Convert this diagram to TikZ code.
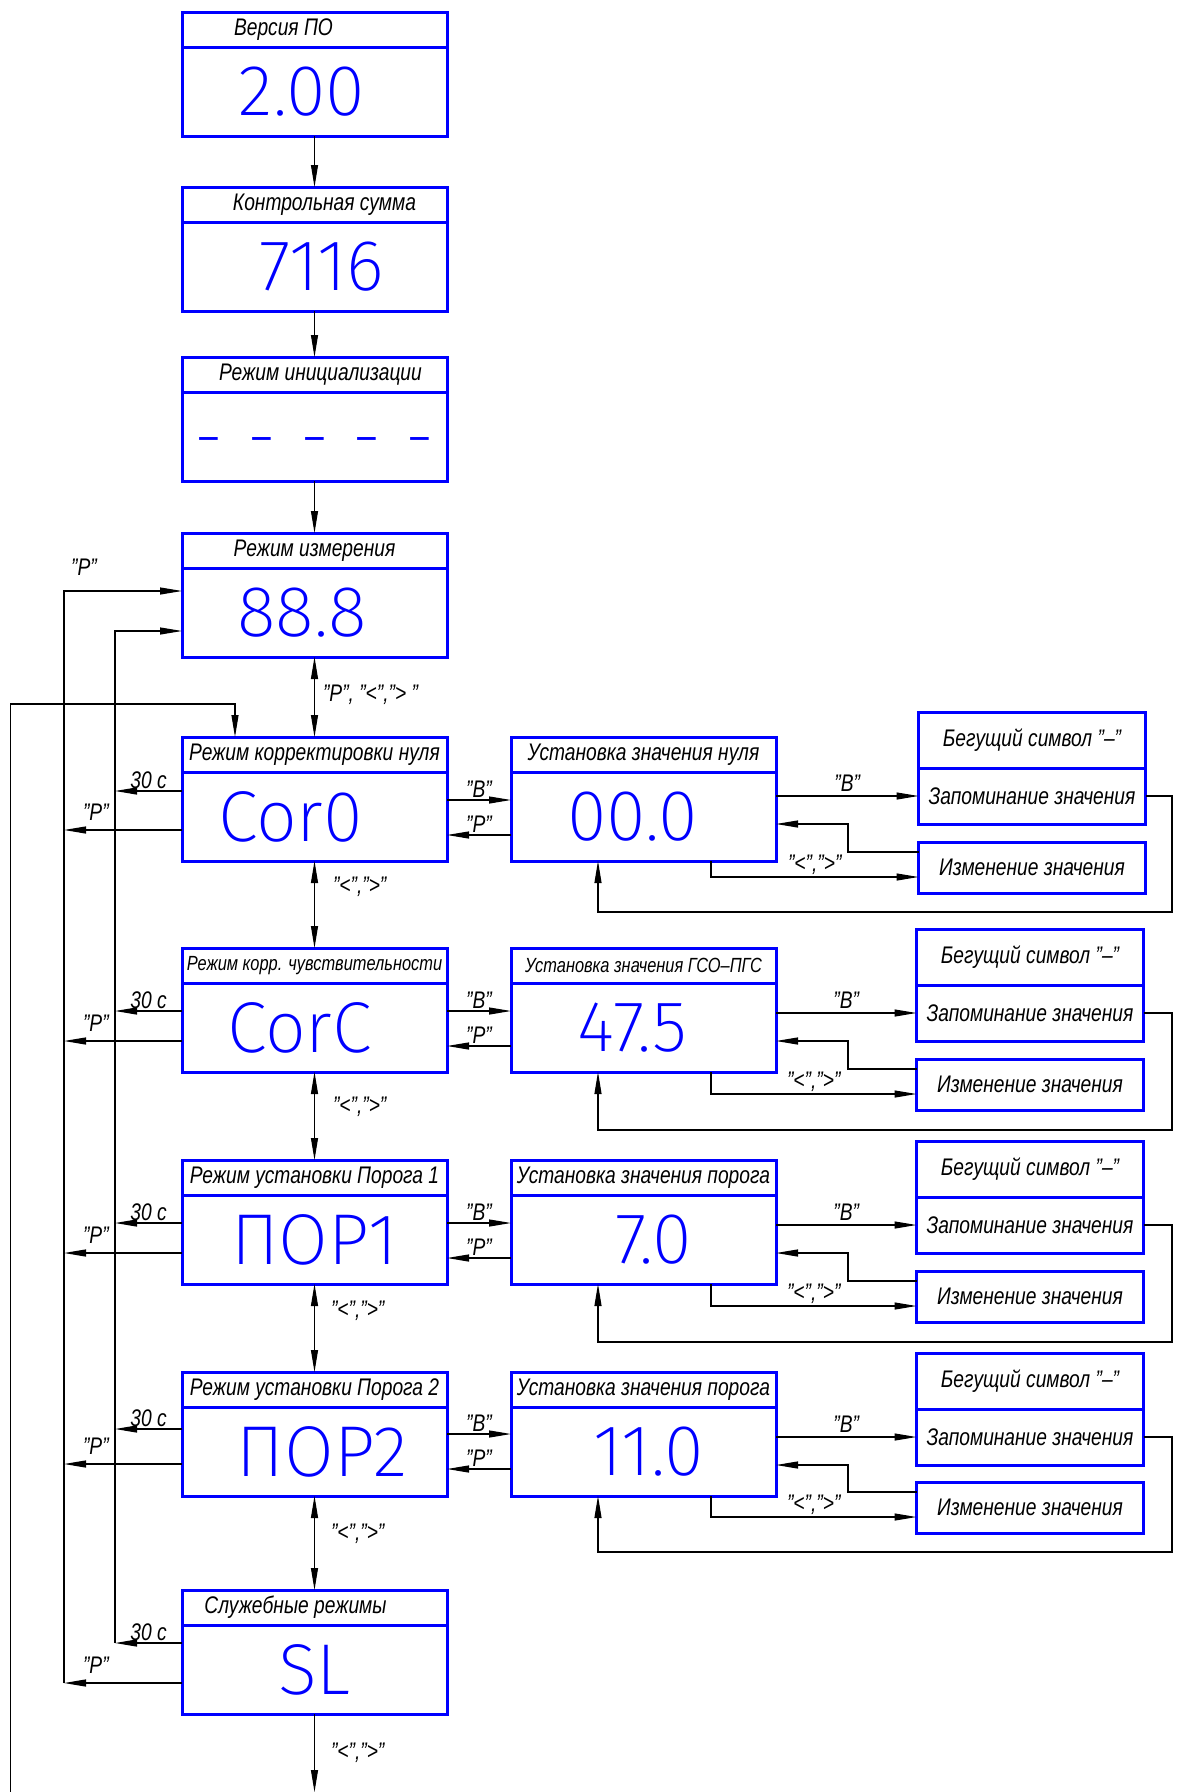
\documentclass[tikz,border=0pt]{standalone}
\usepackage{fontspec}
\setmainfont{Liberation Sans}[FakeStretch=0.8]
\newfontfamily\segfont{Fira Sans ExtraLight}
\usetikzlibrary{positioning,arrows.meta}

\tikzstyle{head} = [draw=blue, line width=3pt, outer sep=0pt, inner sep=0pt, minimum width=265pt, minimum height=35pt, anchor=north, font=\itshape\fontsize{24}{24}\selectfont]
\tikzstyle{disp} = [draw=blue, line width=3pt, outer sep=0pt, inner sep=0pt, minimum width=265pt, minimum height=89pt, text=blue, font=\segfont\fontsize{72}{72}\selectfont]
\tikzstyle{cell} = [draw=blue, line width=3pt, outer sep=0pt, inner sep=0pt, minimum width=227pt, minimum height=56pt, anchor=north, font=\itshape\fontsize{24}{24}\selectfont]
\tikzstyle{link} = [draw, line width=1.1pt, -{Triangle[length=22pt,width=7pt]}]
\tikzstyle{dlink} = [draw, line width=1.1pt, {Triangle[length=22pt,width=7pt]}-{Triangle[length=22pt,width=7pt]}]
\tikzstyle{lbl} = [font=\itshape\fontsize{24}{24}\selectfont, inner sep=2pt]
\tikzstyle{small} = [font=\itshape\fontsize{20.5}{20.5}\selectfont]

\begin{document}
\begin{tikzpicture}[x=1pt, y=-1pt]
\useasboundingbox (0,0) rectangle (1176,1792);

% main column
\node[head] (ver) at (314.5,12) {Версия ПО\hspace{62pt}\mbox{}};
\node[disp, below=0pt of ver] (verv) {2.00\hspace{25pt}\mbox{}};
\node[head] (crc) at (314.5,187) {\hspace{20pt}Контрольная сумма};
\node[disp, below=0pt of crc] (crcv) {\hspace{15pt}7116};
\node[head] (init) at (314.5,357) {\hspace{12pt}Режим инициализации};
\node[disp, below=0pt of init] (initv) {\raisebox{-25pt}[0pt][0pt]{-\hspace{24pt}-\hspace{24pt}-\hspace{24pt}-\hspace{24pt}-}};
\node[head] (meas) at (314.5,533) {Режим измерения};
\node[disp, below=0pt of meas] (measv) {88.8\hspace{25pt}\mbox{}};
\node[head] (cor0) at (314.5,737) {Режим корректировки нуля};
\node[disp, below=0pt of cor0] (cor0v) {Cor0\hspace{48pt}\mbox{}};
\node[head, small] (corC) at (314.5,948) {Режим корр. чувствительности};
\node[disp, below=0pt of corC] (corCv) {CorC\hspace{30pt}\mbox{}};
\node[head] (por1) at (314.5,1160) {Режим установки Порога 1};
\node[disp, below=0pt of por1] (por1v) {ПОР1};
\node[head] (por2) at (314.5,1372) {Режим установки Порога 2};
\node[disp, below=0pt of por2] (por2v) {\hspace{15pt}ПОР2};
\node[head] (sl) at (314.5,1590) {Служебные режимы\hspace{38pt}\mbox{}};
\node[disp, below=0pt of sl] (slv) {SL};

% value setting column
\node[head] (set0) at (643.5,737) {Установка значения нуля};
\node[disp, below=0pt of set0] (set0v) {00.0\hspace{22pt}\mbox{}};
\node[head, small] (setC) at (643.5,948) {Установка значения ГСО–ПГС};
\node[disp, below=0pt of setC] (setCv) {47.5\hspace{22pt}\mbox{}};
\node[head] (setP1) at (643.5,1160) {Установка значения порога};
\node[disp, below=0pt of setP1] (setP1v) {\hspace{20pt}7.0};
\node[head] (setP2) at (643.5,1372) {Установка значения порога};
\node[disp, below=0pt of setP2] (setP2v) {\hspace{10pt}11.0};

% right column
\node[cell] (run1) at (1032,712) {Бегущий символ "–"};
\node[cell, below=0pt of run1] (mem1) {Запоминание значения};
\node[cell, minimum height=51pt] (chg1) at (1032,842) {Изменение значения};
\node[cell] (run2) at (1030,929) {Бегущий символ "–"};
\node[cell, below=0pt of run2] (mem2) {Запоминание значения};
\node[cell, minimum height=51pt] (chg2) at (1030,1059) {Изменение значения};
\node[cell] (run3) at (1030,1141) {Бегущий символ "–"};
\node[cell, below=0pt of run3] (mem3) {Запоминание значения};
\node[cell, minimum height=51pt] (chg3) at (1030,1271) {Изменение значения};
\node[cell] (run4) at (1030,1353) {Бегущий символ "–"};
\node[cell, below=0pt of run4] (mem4) {Запоминание значения};
\node[cell, minimum height=51pt] (chg4) at (1030,1482) {Изменение значения};

% main chain
\draw[link] (verv.south) -- (crc.north);
\draw[link] (crcv.south) -- (init.north);
\draw[link] (initv.south) -- (meas.north);
\draw[dlink] (measv.south) -- (cor0.north) node[lbl, pos=0.47, anchor=west, xshift=6pt] {"Р", "<","> "};
\draw[dlink] (cor0v.south) -- (corC.north) node[lbl, pos=0.3, anchor=west, xshift=16pt] {"<",">"};
\draw[dlink] (corCv.south) -- (por1.north) node[lbl, pos=0.4, anchor=west, xshift=16pt] {"<",">"};
\draw[dlink] (por1v.south) -- (por2.north) node[lbl, pos=0.3, anchor=west, xshift=14pt] {"<",">"};
\draw[dlink] (por2v.south) -- (sl.north) node[lbl, pos=0.4, anchor=west, xshift=14pt] {"<",">"};
\coordinate (out) at (314.5,1792);
\draw[link] (slv.south) -- (out) node[lbl, pos=0.5, anchor=west, xshift=14pt] {"<",">"};

% back to measuring mode
\coordinate (ptop) at (64,591);
\coordinate (pbot) at (64,1683);
\coordinate (ttop) at (115,631);
\coordinate (tbot) at (115,1643);
\draw[link] (pbot) -- (ptop) -- (measv.west |- ptop);
\node[lbl] (pl0) at (84,567) {"Р"};
\draw[link] (tbot) -- (ttop) -- (measv.west |- ttop);
\coordinate (cbot) at (10.7,1792);
\coordinate (ctop) at (235,704);
\draw[link] (cbot) |- (ctop) -- (cor0.north -| ctop);

% exits to the left
\coordinate (t1) at (115,791);
\coordinate (p1) at (64,830);
\draw[link] (cor0v.west |- t1) -- (t1) node[lbl, midway, above] {30 с};
\draw[link] (cor0v.west |- p1) -- (p1) node[lbl, pos=0.73, above=7pt] {"Р"};
\coordinate (t2) at (115,1011);
\coordinate (p2) at (64,1041);
\draw[link] (corCv.west |- t2) -- (t2) node[lbl, midway, above] {30 с};
\draw[link] (corCv.west |- p2) -- (p2) node[lbl, pos=0.73, above=7pt] {"Р"};
\coordinate (t3) at (115,1223);
\coordinate (p3) at (64,1253);
\draw[link] (por1v.west |- t3) -- (t3) node[lbl, midway, above] {30 с};
\draw[link] (por1v.west |- p3) -- (p3) node[lbl, pos=0.73, above=7pt] {"Р"};
\coordinate (t4) at (115,1429);
\coordinate (p4) at (64,1464);
\draw[link] (por2v.west |- t4) -- (t4) node[lbl, midway, above] {30 с};
\draw[link] (por2v.west |- p4) -- (p4) node[lbl, pos=0.73, above=7pt] {"Р"};
\coordinate (t5) at (115,1643);
\coordinate (p5) at (64,1683);
\draw[link] (slv.west |- t5) -- (t5) node[lbl, midway, above] {30 с};
\draw[link] (slv.west |- p5) -- (p5) node[lbl, pos=0.73, above=7pt] {"Р"};

% into setting and back
\coordinate (b1) at (0,800);
\coordinate (r1) at (0,835);
\draw[link] (cor0v.east |- b1) -- (set0v.west |- b1) node[lbl, midway, above] {"В"};
\draw[link] (set0v.west |- r1) -- (cor0v.east |- r1) node[lbl, midway, above] {"Р"};
\coordinate (b2) at (0,1011);
\coordinate (r2) at (0,1046);
\draw[link] (corCv.east |- b2) -- (setCv.west |- b2) node[lbl, midway, above] {"В"};
\draw[link] (setCv.west |- r2) -- (corCv.east |- r2) node[lbl, midway, above] {"Р"};
\coordinate (b3) at (0,1223);
\coordinate (r3) at (0,1258);
\draw[link] (por1v.east |- b3) -- (setP1v.west |- b3) node[lbl, midway, above] {"В"};
\draw[link] (setP1v.west |- r3) -- (por1v.east |- r3) node[lbl, midway, above] {"Р"};
\coordinate (b4) at (0,1434);
\coordinate (r4) at (0,1469);
\draw[link] (por2v.east |- b4) -- (setP2v.west |- b4) node[lbl, midway, above] {"В"};
\draw[link] (setP2v.west |- r4) -- (por2v.east |- r4) node[lbl, midway, above] {"Р"};

% value editing loops
\coordinate (c1) at (848,852);
\coordinate (d1) at (711,877);
\coordinate (e1) at (1172,912);
\coordinate (f1) at (598,912);
\draw[link] (set0v.east |- mem1.west) -- (mem1.west) node[lbl, midway, above=2pt] {"В"};
\draw[link] (chg1.west |- c1) -- (c1) |- (set0v.east |- mem1.south);
\draw[link] (set0v.south -| d1) |- (chg1.west |- d1) node[lbl, pos=0.75, above] {"<",">"};
\draw[link] (mem1.east) -| (e1) -- (f1) -- (set0v.south -| f1);
\coordinate (c2) at (848,1069);
\coordinate (d2) at (711,1094);
\coordinate (e2) at (1172,1130);
\coordinate (f2) at (598,1130);
\draw[link] (setCv.east |- mem2.west) -- (mem2.west) node[lbl, midway, above=2pt] {"В"};
\draw[link] (chg2.west |- c2) -- (c2) |- (setCv.east |- mem2.south);
\draw[link] (setCv.south -| d2) |- (chg2.west |- d2) node[lbl, pos=0.75, above] {"<",">"};
\draw[link] (mem2.east) -| (e2) -- (f2) -- (setCv.south -| f2);
\coordinate (c3) at (848,1281);
\coordinate (d3) at (711,1306);
\coordinate (e3) at (1172,1342);
\coordinate (f3) at (598,1342);
\draw[link] (setP1v.east |- mem3.west) -- (mem3.west) node[lbl, midway, above=2pt] {"В"};
\draw[link] (chg3.west |- c3) -- (c3) |- (setP1v.east |- mem3.south);
\draw[link] (setP1v.south -| d3) |- (chg3.west |- d3) node[lbl, pos=0.75, above] {"<",">"};
\draw[link] (mem3.east) -| (e3) -- (f3) -- (setP1v.south -| f3);
\coordinate (c4) at (848,1492);
\coordinate (d4) at (711,1517);
\coordinate (e4) at (1172,1552);
\coordinate (f4) at (598,1552);
\draw[link] (setP2v.east |- mem4.west) -- (mem4.west) node[lbl, midway, above=2pt] {"В"};
\draw[link] (chg4.west |- c4) -- (c4) |- (setP2v.east |- mem4.south);
\draw[link] (setP2v.south -| d4) |- (chg4.west |- d4) node[lbl, pos=0.75, above] {"<",">"};
\draw[link] (mem4.east) -| (e4) -- (f4) -- (setP2v.south -| f4);
\end{tikzpicture}
\end{document}
